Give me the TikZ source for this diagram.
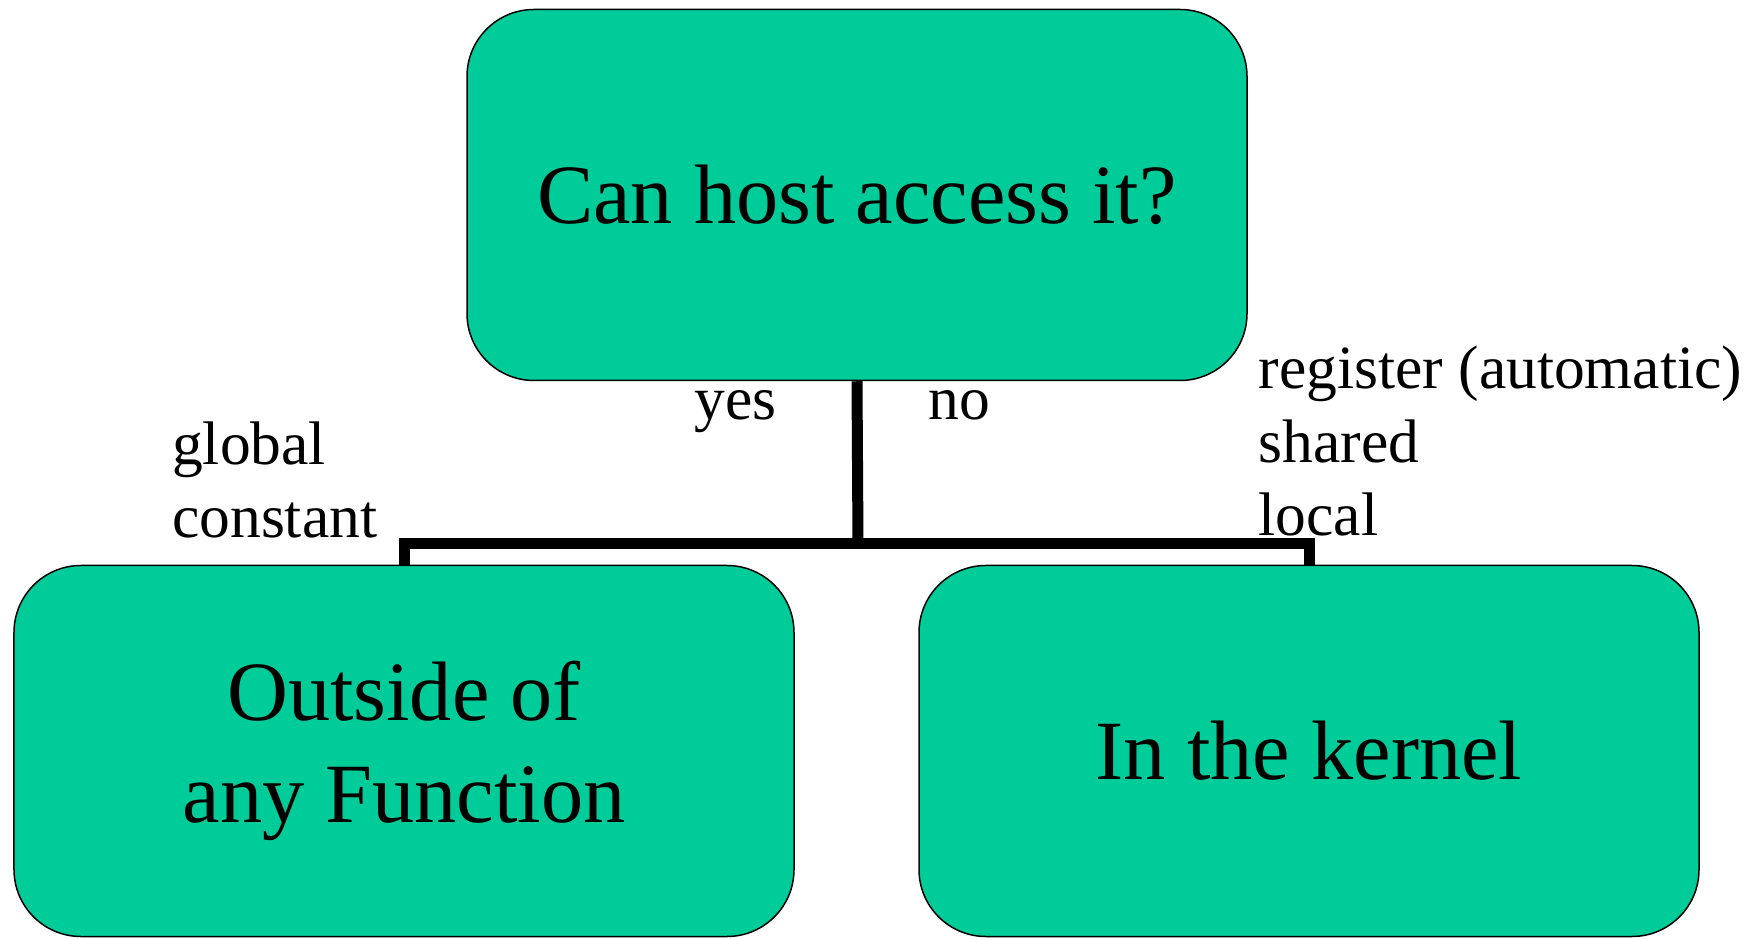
\documentclass[tikz,border=0pt]{standalone}
\usepackage{fontspec}
\setmainfont{Liberation Serif}
\usetikzlibrary{positioning}
\definecolor{boxgreen}{RGB}{0,204,153}
\newcommand{\BigText}{\fontsize{24}{28.8}\selectfont}
\newcommand{\SmallText}{\fontsize{17.5}{21}\selectfont}

\begin{document}
\begin{tikzpicture}[
    choice/.style={draw=black, line width=0.15mm, fill=boxgreen, rounded corners=6.7mm,
        minimum width=7.8cm, minimum height=3.71cm, inner sep=0pt, align=center, font=\BigText},
    answer/.style={inner sep=0pt, align=left, font=\SmallText},
    branch/.style={line width=1.1mm}]

    \useasboundingbox (0,0) rectangle (17.58,9.38);

    \draw(8.57,7.43) node[choice] (Q) {Can host access it?};
    \draw(4.04,1.87) node[choice] (L) {Outside of\\any Function};
    \draw(13.09,1.87) node[choice] (R) {In the kernel};

    \coordinate (fork) at (8.58,3.94);
    \draw[branch] (Q.south) -- (fork);
    \draw[branch] (L.north) |- (fork) -| (R.north);

    \draw(7.77,5.18) node[answer, anchor=base east] (yes) {yes};
    \draw(9.28,5.18) node[answer, anchor=base west] (no) {no};
    % base of a multi-line node is its last line
    \draw(1.715,4.00) node[answer, anchor=base west] (hostvars) {global\\constant};
    \draw(12.58,4.02) node[answer, anchor=base west] (devvars) {register (automatic)\\shared\\local};

\end{tikzpicture}
\end{document}
